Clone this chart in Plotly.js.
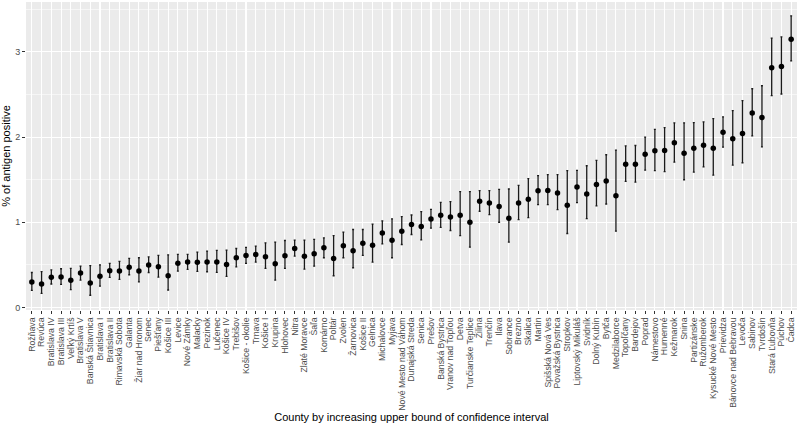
<!DOCTYPE html>
<html>
<head>
<meta charset="utf-8">
<script src="https://cdn.plot.ly/plotly-3.0.1.min.js"></script>
<style>html,body{margin:0;padding:0;background:#fff;}#chart{width:800px;height:424px;}</style>
</head>
<body>
<div id="chart"></div>
<script>
const counties = ["Rožňava","Revúca","Bratislava IV","Bratislava III","Veľký Krtíš","Bratislava V","Banská Štiavnica","Bratislava I","Bratislava II","Rimavská Sobota","Galanta","Žiar nad Hronom","Senec","Piešťany","Košice III","Levice","Nové Zámky","Malacky","Pezinok","Lučenec","Košice IV","Trebišov","Košice - okolie","Trnava","Košice I","Krupina","Hlohovec","Nitra","Zlaté Moravce","Šaľa","Komárno","Poltár","Zvolen","Žarnovica","Košice II","Gelnica","Michalovce","Myjava","Nové Mesto nad Váhom","Dunajská Streda","Senica","Prešov","Banská Bystrica","Vranov nad Topľou","Detva","Turčianske Teplice","Žilina","Trenčín","Ilava","Sobrance","Brezno","Skalica","Martin","Spišská Nová Ves","Považská Bystrica","Stropkov","Liptovský Mikuláš","Svidník","Dolný Kubín","Bytča","Medzilaborce","Topoľčany","Bardejov","Poprad","Námestovo","Humenné","Kežmarok","Snina","Partizánske","Ružomberok","Kysucké Nové Mesto","Prievidza","Bánovce nad Bebravou","Levoča","Sabinov","Tvrdošín","Stará Ľubovňa","Púchov","Čadca"];

const estimate = [0.30,0.275,0.353,0.357,0.32,0.403,0.287,0.365,0.43,0.427,0.472,0.427,0.497,0.477,0.372,0.52,0.532,0.529,0.532,0.532,0.505,0.583,0.61,0.622,0.594,0.512,0.606,0.692,0.602,0.63,0.70,0.575,0.723,0.664,0.754,0.731,0.875,0.79,0.895,0.973,0.95,1.039,1.082,1.062,1.082,1.0,1.246,1.226,1.184,1.047,1.226,1.269,1.371,1.374,1.343,1.199,1.413,1.331,1.444,1.483,1.312,1.682,1.682,1.799,1.839,1.842,1.932,1.811,1.869,1.904,1.869,2.056,1.979,2.041,2.283,2.228,2.813,2.829,3.149];

const lower = [0.20,0.166,0.275,0.27,0.208,0.32,0.143,0.25,0.353,0.33,0.384,0.30,0.41,0.357,0.205,0.427,0.447,0.423,0.419,0.412,0.365,0.477,0.517,0.532,0.458,0.32,0.458,0.602,0.45,0.485,0.583,0.372,0.583,0.466,0.61,0.532,0.746,0.583,0.739,0.856,0.793,0.93,0.94,0.903,0.844,0.708,1.129,1.09,1.0,0.766,1.031,1.055,1.207,1.207,1.149,0.868,1.23,1.043,1.191,1.214,0.895,1.48,1.471,1.612,1.605,1.593,1.705,1.499,1.588,1.651,1.553,1.881,1.67,1.698,2.014,1.885,2.485,2.505,2.895];

const upper = [0.41,0.42,0.44,0.454,0.458,0.485,0.49,0.50,0.517,0.54,0.575,0.583,0.594,0.61,0.618,0.622,0.622,0.649,0.661,0.669,0.672,0.692,0.704,0.719,0.758,0.766,0.786,0.79,0.79,0.798,0.816,0.844,0.883,0.915,0.915,0.977,1.015,1.039,1.067,1.085,1.125,1.152,1.234,1.242,1.359,1.359,1.371,1.371,1.386,1.39,1.433,1.511,1.548,1.558,1.558,1.605,1.608,1.663,1.725,1.792,1.846,1.897,1.901,1.998,2.091,2.111,2.166,2.166,2.17,2.178,2.216,2.236,2.31,2.427,2.567,2.602,3.16,3.175,3.421];

const plus = upper.map((u, i) => u - estimate[i]);
const minus = estimate.map((e, i) => e - lower[i]);

const trace = {
  type: 'scatter',
  mode: 'markers',
  x: counties,
  y: estimate,
  marker: {color: '#000000', size: 5.5},
  error_y: {
    type: 'data', symmetric: false,
    array: plus, arrayminus: minus,
    color: '#1a1a1a', thickness: 1.3, width: 1
  },
  hoverinfo: 'x+y'
};

const layout = {
  width: 800, height: 424,
  margin: {l: 26, r: 3, t: 2, b: 114, pad: 0},
  paper_bgcolor: '#ffffff',
  plot_bgcolor: '#EBEBEB',
  showlegend: false,
  font: {family: 'Liberation Sans, Arial, sans-serif', color: '#000'},
  xaxis: {
    type: 'category',
    range: [-0.6, 78.6],
    tickmode: 'linear', tick0: 0, dtick: 1,
    tickangle: -90,
    tickfont: {size: 8.7, color: '#4D4D4D'},
    ticks: 'outside', ticklen: 3, tickcolor: '#333333', tickwidth: 1,
    showgrid: true, gridcolor: '#FFFFFF', gridwidth: 1.07,
    zeroline: false, showline: false,
    automargin: false,
    title: {text: 'County by increasing upper bound of confidence interval', font: {size: 11, color: '#000'}, standoff: 0}
  },
  yaxis: {
    range: [-0.03, 3.585],
    tickvals: [0, 1, 2, 3],
    ticktext: ['0', '1', '2', '3'],
    tickfont: {size: 9, color: '#4D4D4D'},
    ticks: 'outside', ticklen: 3, tickcolor: '#333333', tickwidth: 1,
    showgrid: true, gridcolor: '#FFFFFF', gridwidth: 1.07,
    minor: {dtick: 0.5, tick0: 0, showgrid: true, gridcolor: '#FFFFFF', gridwidth: 0.53, ticks: ''},
    zeroline: false, showline: false,
    automargin: false,
    title: {text: '% of antigen positive', font: {size: 11, color: '#000'}, standoff: 8}
  }
};

Plotly.newPlot('chart', [trace], layout, {displayModeBar: false, staticPlot: true});
</script>
</body>
</html>
